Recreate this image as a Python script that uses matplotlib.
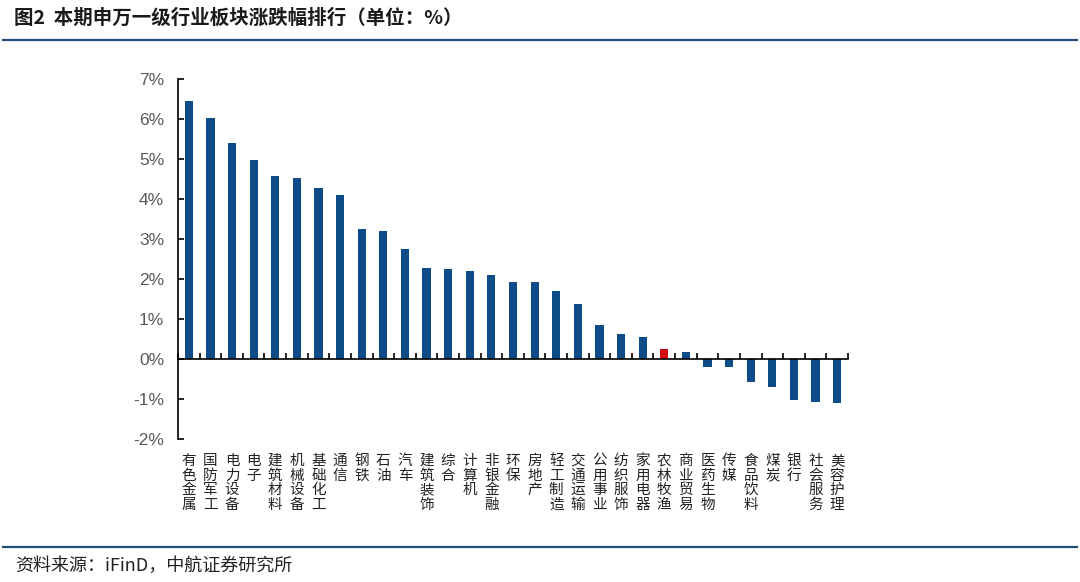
import matplotlib
matplotlib.use("Agg")
import matplotlib.pyplot as plt
from matplotlib.lines import Line2D
from matplotlib.ticker import FixedLocator, FuncFormatter

categories = ["有色金属", "国防军工", "电力设备", "电子", "建筑材料", "机械设备", "基础化工",
              "通信", "钢铁", "石油", "汽车", "建筑装饰", "综合", "计算机", "非银金融",
              "环保", "房地产", "轻工制造", "交通运输", "公用事业", "纺织服饰", "家用电器",
              "农林牧渔", "商业贸易", "医药生物", "传媒", "食品饮料", "煤炭", "银行",
              "社会服务", "美容护理"]
values = [6.45, 6.02, 5.40, 4.97, 4.57, 4.52, 4.27, 4.10, 3.25, 3.20, 2.75, 2.28, 2.25,
          2.21, 2.10, 1.93, 1.93, 1.70, 1.38, 0.84, 0.62, 0.55, 0.26, 0.17, -0.19, -0.19,
          -0.58, -0.70, -1.03, -1.07, -1.10]
highlight = "农林牧渔"
yticks = [-2, -1, 0, 1, 2, 3, 4, 5, 6, 7]

CJK = ["Noto Sans CJK SC", "DejaVu Sans"]
W, H = 1080, 582
fig = plt.figure(figsize=(W / 100, H / 100), dpi=100)

ax = fig.add_axes([178 / W, 1 - 439 / H, (848 - 178) / W, (439 - 79) / H])
x = list(range(len(categories)))
colors = ["#D10A14" if c == highlight else "#0E4C88" for c in categories]
ax.bar(x, values, width=0.38, color=colors, zorder=2)

ax.set_xlim(-0.5, len(categories) - 0.5)
ax.set_ylim(-2, 7)
ax.yaxis.set_major_locator(FixedLocator(yticks))
ax.yaxis.set_major_formatter(FuncFormatter(lambda v, p: f"{v:.0f}%"))
ax.tick_params(axis="y", direction="in", length=4, width=1.2, colors="black",
               labelcolor="#595959", labelsize=12.5, pad=10)
for lab in ax.get_yticklabels():
    lab.set_family(["Liberation Sans", "DejaVu Sans"])

ax.spines["top"].set_visible(False)
ax.spines["right"].set_visible(False)
ax.spines["left"].set_linewidth(1.2)
ax.spines["bottom"].set_position(("data", 0))
ax.spines["bottom"].set_linewidth(1.2)

ax.set_xticks(x)
ax.set_xticklabels(["\n".join(c) for c in categories], fontsize=10.5, family=CJK,
                   color="#222222", linespacing=1.05)
ax.tick_params(axis="x", which="major", length=0, pad=95 * 0.72)
ax.set_xticks([i - 0.5 for i in range(len(categories) + 1)], minor=True)
ax.tick_params(axis="x", which="minor", direction="in", length=4, width=1.2, colors="black")

# title and rules
fig.text(14 / W, 1 - 18 / H, "图2  本期申万一级行业板块涨跌幅排行（单位：%）", fontsize=14,
         fontweight="bold", family=CJK, color="#1a1a1a", va="center", ha="left")
fig.add_artist(Line2D([3 / W, 1 - 3 / W], [1 - 40 / H, 1 - 40 / H], color="#1F4E79",
                      lw=1.6, transform=fig.transFigure))
fig.add_artist(Line2D([3 / W, 1 - 3 / W], [1 - 547 / H, 1 - 547 / H], color="#1F4E79",
                      lw=1.6, transform=fig.transFigure))
fig.text(15 / W, 1 - 566 / H, "资料来源：iFinD，中航证券研究所", fontsize=13,
         family=CJK, color="#222222", va="center", ha="left")

fig.savefig("out.png", dpi=100)
